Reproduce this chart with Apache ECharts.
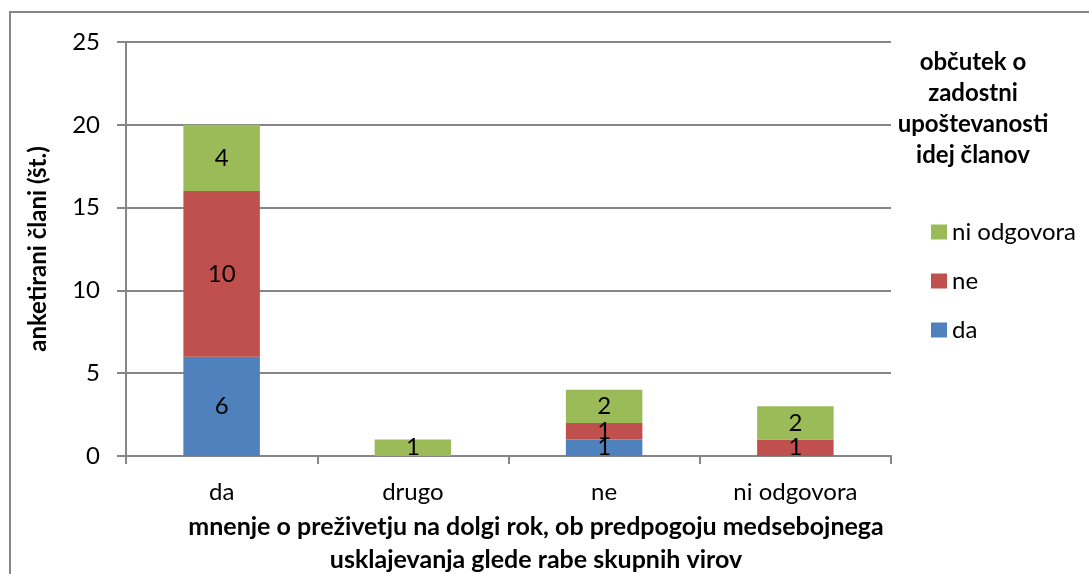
<!DOCTYPE html>
<html>
<head>
<meta charset="utf-8">
<script src="https://cdn.jsdelivr.net/npm/echarts@6/dist/echarts.min.js"></script>
<style>
  html, body { margin: 0; padding: 0; background: #fff; }
  #chart { width: 1089px; height: 574px; }
</style>
</head>
<body>
<div id="chart"></div>
<script>
const categories = ['da', 'drugo', 'ne', 'ni odgovora'];
const daValues = [6, 0, 1, 0];
const neValues = [10, 0, 1, 1];
const niOdgovoraValues = [4, 1, 2, 2];

const font = 'Lato, "Liberation Sans", sans-serif';
const gray = '#868686';

// zero values are not drawn (Excel leaves them out)
const clean = arr => arr.map(v => (v === 0 ? null : v));

function barSeries(name, data, color) {
  return {
    name: name,
    type: 'bar',
    stack: 'total',
    barWidth: '40%',
    data: clean(data),
    itemStyle: { color: color },
    label: {
      show: true,
      position: 'inside',
      color: '#000',
      fontSize: 24,
      fontFamily: font
    }
  };
}

const chart = echarts.init(document.getElementById('chart'));
chart.setOption({
  animation: false,
  textStyle: { fontFamily: font },
  grid: {
    left: 126,
    right: 198,
    top: 42,
    bottom: 118
  },
  legend: {
    orient: 'vertical',
    left: 931,
    top: 220,
    padding: 0,
    itemWidth: 16,
    itemHeight: 15,
    itemGap: 25,
    icon: 'rect',
    data: ['ni odgovora', 'ne', 'da'],
    textStyle: { fontSize: 24, color: '#000', fontFamily: font, padding: [0, 0, 0, 0] }
  },
  xAxis: {
    type: 'category',
    data: categories,
    axisLine: { lineStyle: { color: gray, width: 2 } },
    axisTick: { show: true, length: 8, lineStyle: { color: gray, width: 2 } },
    axisLabel: { fontSize: 24, color: '#000', margin: 24, fontFamily: font }
  },
  yAxis: {
    type: 'value',
    min: 0,
    max: 25,
    interval: 5,
    name: 'anketirani člani (št.)',
    nameLocation: 'middle',
    nameGap: 76,
    nameTextStyle: { fontSize: 24, fontWeight: 'bold', color: '#000', fontFamily: font },
    axisLine: { show: true, lineStyle: { color: gray, width: 2 } },
    axisTick: { show: true, length: 9, lineStyle: { color: gray, width: 2 } },
    axisLabel: { fontSize: 24, color: '#000', margin: 26, fontFamily: font },
    splitLine: { lineStyle: { color: gray, width: 2 } }
  },
  graphic: [
    {
      type: 'rect',
      silent: true,
      shape: { x: 10, y: 12, width: 1200, height: 700 },
      style: { fill: 'none', stroke: gray, lineWidth: 2 }
    },
    {
      type: 'text',
      x: 973,
      y: 47,
      style: {
        text: 'občutek o\nzadostni\nupoštevanosti\nidej članov',
        textAlign: 'center',
        textVerticalAlign: 'top',
        fontSize: 24,
        fontWeight: 'bold',
        lineHeight: 31,
        fill: '#000',
        fontFamily: font
      }
    },
    {
      type: 'text',
      x: 536,
      y: 510,
      style: {
        text: 'mnenje o preživetju na dolgi rok, ob predpogoju medsebojnega\nusklajevanja glede rabe skupnih virov',
        textAlign: 'center',
        textVerticalAlign: 'top',
        fontSize: 25,
        fontWeight: 'bold',
        lineHeight: 33,
        fill: '#000',
        fontFamily: font
      }
    }
  ],
  series: [
    barSeries('da', daValues, '#4F81BD'),
    barSeries('ne', neValues, '#C0504D'),
    barSeries('ni odgovora', niOdgovoraValues, '#9BBB59')
  ]
});
</script>
</body>
</html>
